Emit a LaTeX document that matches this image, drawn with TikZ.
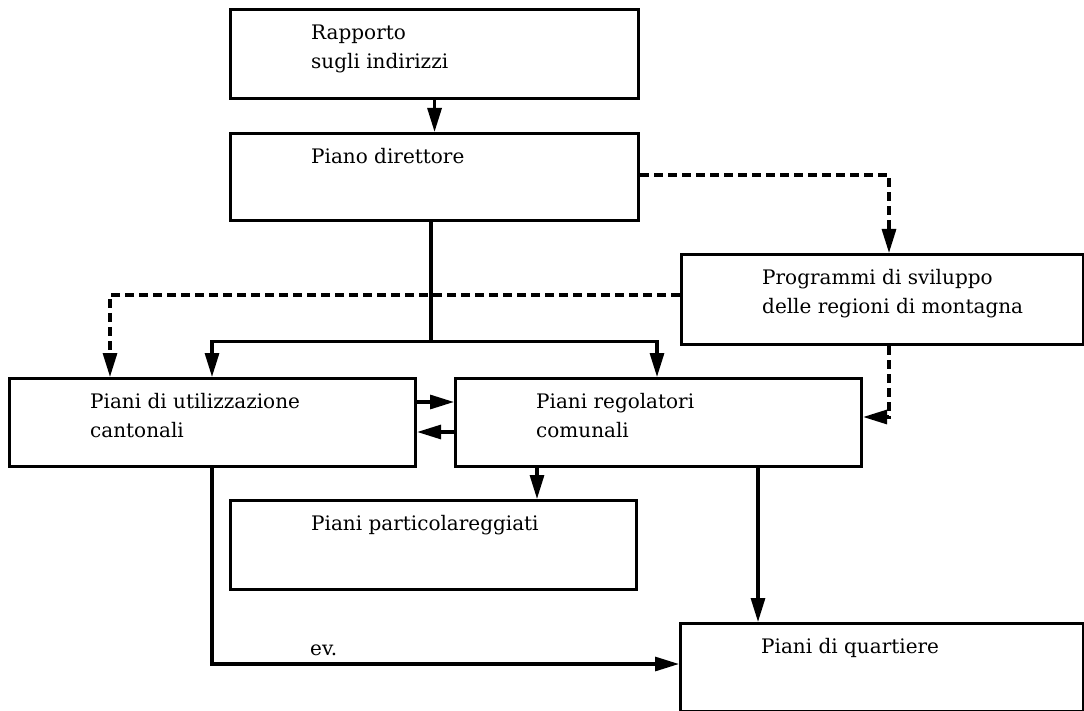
\documentclass[tikz,border=0pt]{standalone}
\usepackage{fontspec}
\setmainfont{DejaVu Serif}
\usetikzlibrary{arrows.meta}
\begin{document}
\begin{tikzpicture}[x=1pt,y=-1pt,
  box/.style={draw, line width=3.1pt, rectangle, inner sep=0pt, anchor=north west},
  lbl/.style={anchor=north west, inner sep=0pt, align=left, font=\fontsize{20}{29}\selectfont},
  plain/.style={line width=3.1pt},
  conn/.style={line width=3.1pt, -{Triangle[length=24pt,width=14pt]}},
  dashline/.style={dash pattern=on 9pt off 5pt}]
\useasboundingbox (0,0) rectangle (1084,711);

% boxes
\node[box, minimum width=408pt, minimum height=89pt] (rap)    at (229,8)   {};
\node[box, minimum width=408pt, minimum height=87pt] (dir)    at (229,132) {};
\node[box, minimum width=402pt, minimum height=90pt] (prog)   at (680,253) {};
\node[box, minimum width=406pt, minimum height=88pt] (util)   at (8,377)   {};
\node[box, minimum width=406pt, minimum height=88pt] (regol)  at (454,377) {};
\node[box, minimum width=406pt, minimum height=89pt] (partic) at (229,499) {};
\node[box, minimum width=403pt, minimum height=88pt] (quart)  at (679,622) {};

% box texts
\node[lbl] (raptxt)    at (311,22)  {\rule{0pt}{17pt}Rapporto\\sugli indirizzi};
\node[lbl] (dirtxt)    at (311,146) {\rule{0pt}{17pt}Piano direttore};
\node[lbl] (progtxt)   at (762,267) {\rule{0pt}{17pt}Programmi di sviluppo\\delle regioni di montagna};
\node[lbl] (utiltxt)   at (90,391)  {\rule{0pt}{17pt}Piani di utilizzazione\\cantonali};
\node[lbl] (regoltxt)  at (536,391) {\rule{0pt}{17pt}Piani regolatori\\comunali};
\node[lbl] (partictxt) at (311,513) {\rule{0pt}{17pt}Piani particolareggiati};
\node[lbl] (quarttxt)  at (761,636) {\rule{0pt}{17pt}Piani di quartiere};

% connectors
\draw[conn] (rap.south) -- (dir.north);
\draw[conn, dashline] ([yshift=-43pt]dir.north east) -| ([xshift=209pt]prog.north west);
\draw[conn, dashline] ([yshift=-42pt]prog.north west) -| ([xshift=102pt]util.north west);

\coordinate (fork) at ([xshift=202pt, yshift=-119pt]dir.south west);
\draw[plain] ([xshift=202pt]dir.south west) -- (fork);
\draw[conn] (fork) -| ([xshift=204pt]util.north west);
\draw[conn] (fork) -| ([xshift=203pt]regol.north west);

\draw[conn] ([yshift=-25pt]util.north east) -- ([yshift=-25pt]regol.north west);
\draw[conn] ([yshift=-55pt]regol.north west) -- ([yshift=-55pt]util.north east);

\draw[conn, dashline] ([xshift=209pt]prog.south west) |- ([yshift=-40pt]regol.north east);

\draw[conn] ([xshift=83pt]regol.south west) -- ([xshift=308pt]partic.north west);
\draw[conn] ([xshift=304pt]regol.south west) -- ([xshift=79pt]quart.north west);
\draw[conn] ([xshift=204pt]util.south west) |- ([yshift=-42pt]quart.north west);
\node[anchor=base west, inner sep=0pt, font=\fontsize{20}{29}\selectfont] (ev) at (310,655) {ev.};
\end{tikzpicture}
\end{document}
